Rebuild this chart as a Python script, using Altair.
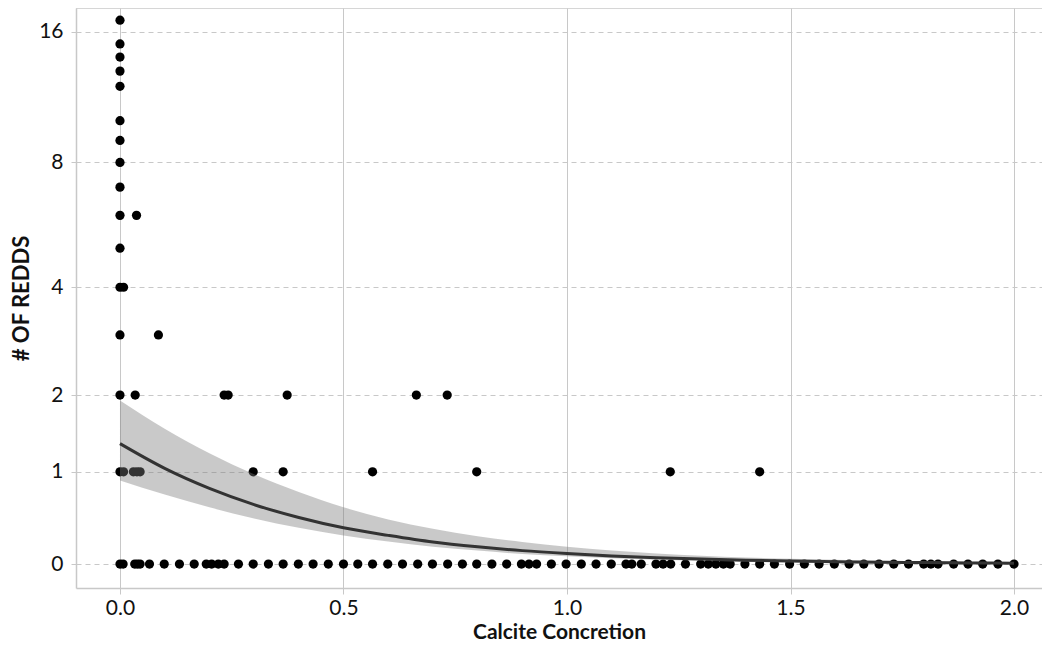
import math
import altair as alt
import pandas as pd

# ---- data ----
# Calcite concretion values of sites with 0 redds
conc_0 = [0, 0.007, 0.033, 0.039, 0.045, 0.066, 0.099, 0.133, 0.166, 0.193, 0.205,
          0.22, 0.233, 0.265, 0.298, 0.332, 0.365, 0.399, 0.432, 0.466, 0.5, 0.532,
          0.565, 0.599, 0.632, 0.666, 0.699, 0.733, 0.766, 0.798, 0.832, 0.865,
          0.898, 0.915, 0.932, 0.965, 0.998, 1.032, 1.065, 1.099, 1.132, 1.145,
          1.166, 1.199, 1.215, 1.232, 1.265, 1.299, 1.316, 1.333, 1.35, 1.365,
          1.398, 1.431, 1.464, 1.498, 1.531, 1.564, 1.598, 1.631, 1.664, 1.698,
          1.731, 1.764, 1.798, 1.814, 1.83, 1.865, 1.897, 1.93, 1.964, 2.0]
# sites with 1 redd
conc_1 = [0, 0.008, 0.03, 0.038, 0.045, 0.298, 0.365, 0.565, 0.798, 1.231, 1.431]
# sites with 2 redds
conc_2 = [0, 0.034, 0.233, 0.242, 0.374, 0.663, 0.732]
# sites with 3 and 4 and 6 redds
conc_3 = [0, 0.086]
conc_4 = [0, 0.008]
conc_6 = [0, 0.037]
# higher counts, all at concretion 0
high_counts = [5, 7, 8, 9, 10, 12, 13, 14, 15, 17]

# fitted curve and confidence band
curve_x = [0, 0.1, 0.2, 0.3, 0.4, 0.5, 0.6, 0.7, 0.8, 0.9, 1.0,
           1.1, 1.2, 1.3, 1.4, 1.5, 1.6, 1.7, 1.8, 1.9, 2.0]
fit_vals = [1.34, 1.04, 0.81, 0.63, 0.49, 0.38, 0.30, 0.23, 0.18, 0.14, 0.11,
            0.085, 0.066, 0.052, 0.040, 0.031, 0.024, 0.019, 0.015, 0.012, 0.009]
upper_vals = [1.92, 1.53, 1.22, 0.97, 0.77, 0.60, 0.47, 0.37, 0.29, 0.23, 0.18,
              0.14, 0.11, 0.087, 0.069, 0.055, 0.044, 0.035, 0.028, 0.023, 0.018]
lower_vals = [0.90, 0.74, 0.60, 0.48, 0.38, 0.30, 0.235, 0.18, 0.14, 0.105, 0.08,
              0.06, 0.045, 0.034, 0.025, 0.019, 0.014, 0.010, 0.0075, 0.0055, 0.004]

y_tick_labels = [0, 1, 2, 4, 8, 16]
x_tick_labels = [0.0, 0.5, 1.0, 1.5, 2.0]

# ---- tables ----
rows = []
for count, xs in [(0, conc_0), (1, conc_1), (2, conc_2), (3, conc_3), (4, conc_4), (6, conc_6)]:
    rows += [{"conc": x, "redds": count} for x in xs]
rows += [{"conc": 0.0, "redds": c} for c in high_counts]
pts = pd.DataFrame(rows)

curve = pd.DataFrame({"conc": curve_x, "fit": fit_vals, "lo": lower_vals, "hi": upper_vals})

# y axis is asinh(y/2)
def tr(field):
    return f"log(datum.{field}/2 + sqrt(1 + datum.{field}*datum.{field}/4))"

FONT = "Lato"
GRID = "#c8c8c8"
W, H = 966, 580

xscale = alt.Scale(domain=[-0.0984, 2.0626], nice=False, zero=False)
yscale = alt.Scale(domain=[-0.125, 2.900], nice=False, zero=False)

xaxis = alt.Axis(values=x_tick_labels, format=".1f", title="Calcite Concretion",
                 grid=True, gridColor=GRID, gridWidth=1,
                 domainColor=GRID, domainWidth=1.5, tickColor=GRID, tickSize=6,
                 labelFontSize=21, labelPadding=3, titleFontSize=21,
                 titleFontWeight="bold", titlePadding=3)
yaxis = alt.Axis(values=[math.asinh(t / 2) for t in y_tick_labels],
                 labelExpr="format(round(exp(datum.value) - exp(-datum.value)), 'd')",
                 title="# OF REDDS", grid=True, gridColor=GRID, gridDash=[5, 4],
                 gridWidth=1, domainColor=GRID, domainWidth=1.5, tickColor=GRID,
                 tickDash=[5, 4], tickSize=7, labelFontSize=21, labelPadding=6,
                 titleFontSize=22, titleFontWeight="bold", titlePadding=5)

points = alt.Chart(pts).transform_calculate(ty=tr("redds")).mark_circle(
    size=85, color="#000000", opacity=1
).encode(
    x=alt.X("conc:Q", scale=xscale, axis=xaxis),
    y=alt.Y("ty:Q", scale=yscale, axis=yaxis),
)

band = alt.Chart(curve).transform_calculate(tlo=tr("lo"), thi=tr("hi")).mark_area(
    color="#7b7b7b", opacity=0.41, interpolate="monotone"
).encode(
    x=alt.X("conc:Q", scale=xscale),
    y=alt.Y("tlo:Q", scale=yscale),
    y2="thi:Q",
)

line = alt.Chart(curve).transform_calculate(tfit=tr("fit")).mark_line(
    color="#333333", strokeWidth=3, interpolate="monotone"
).encode(
    x=alt.X("conc:Q", scale=xscale),
    y=alt.Y("tfit:Q", scale=yscale),
)

top_border = alt.Chart(pd.DataFrame({"a": [0]})).mark_rule(color=GRID, strokeWidth=1.5).encode(
    x=alt.value(0), x2=alt.value(W), y=alt.value(0)
)

chart = alt.layer(points, band, line, top_border).properties(
    width=W, height=H,
    autosize=alt.AutoSizeParams(type="none"),
    padding={"left": 68, "top": 0, "right": 0, "bottom": 59},
).configure(font=FONT).configure_view(stroke=None).configure_axis(
    labelColor="#111111", titleColor="#111111", labelFont=FONT, titleFont=FONT
)

chart.save("out.html", embed_options={"renderer": "svg", "actions": False})
